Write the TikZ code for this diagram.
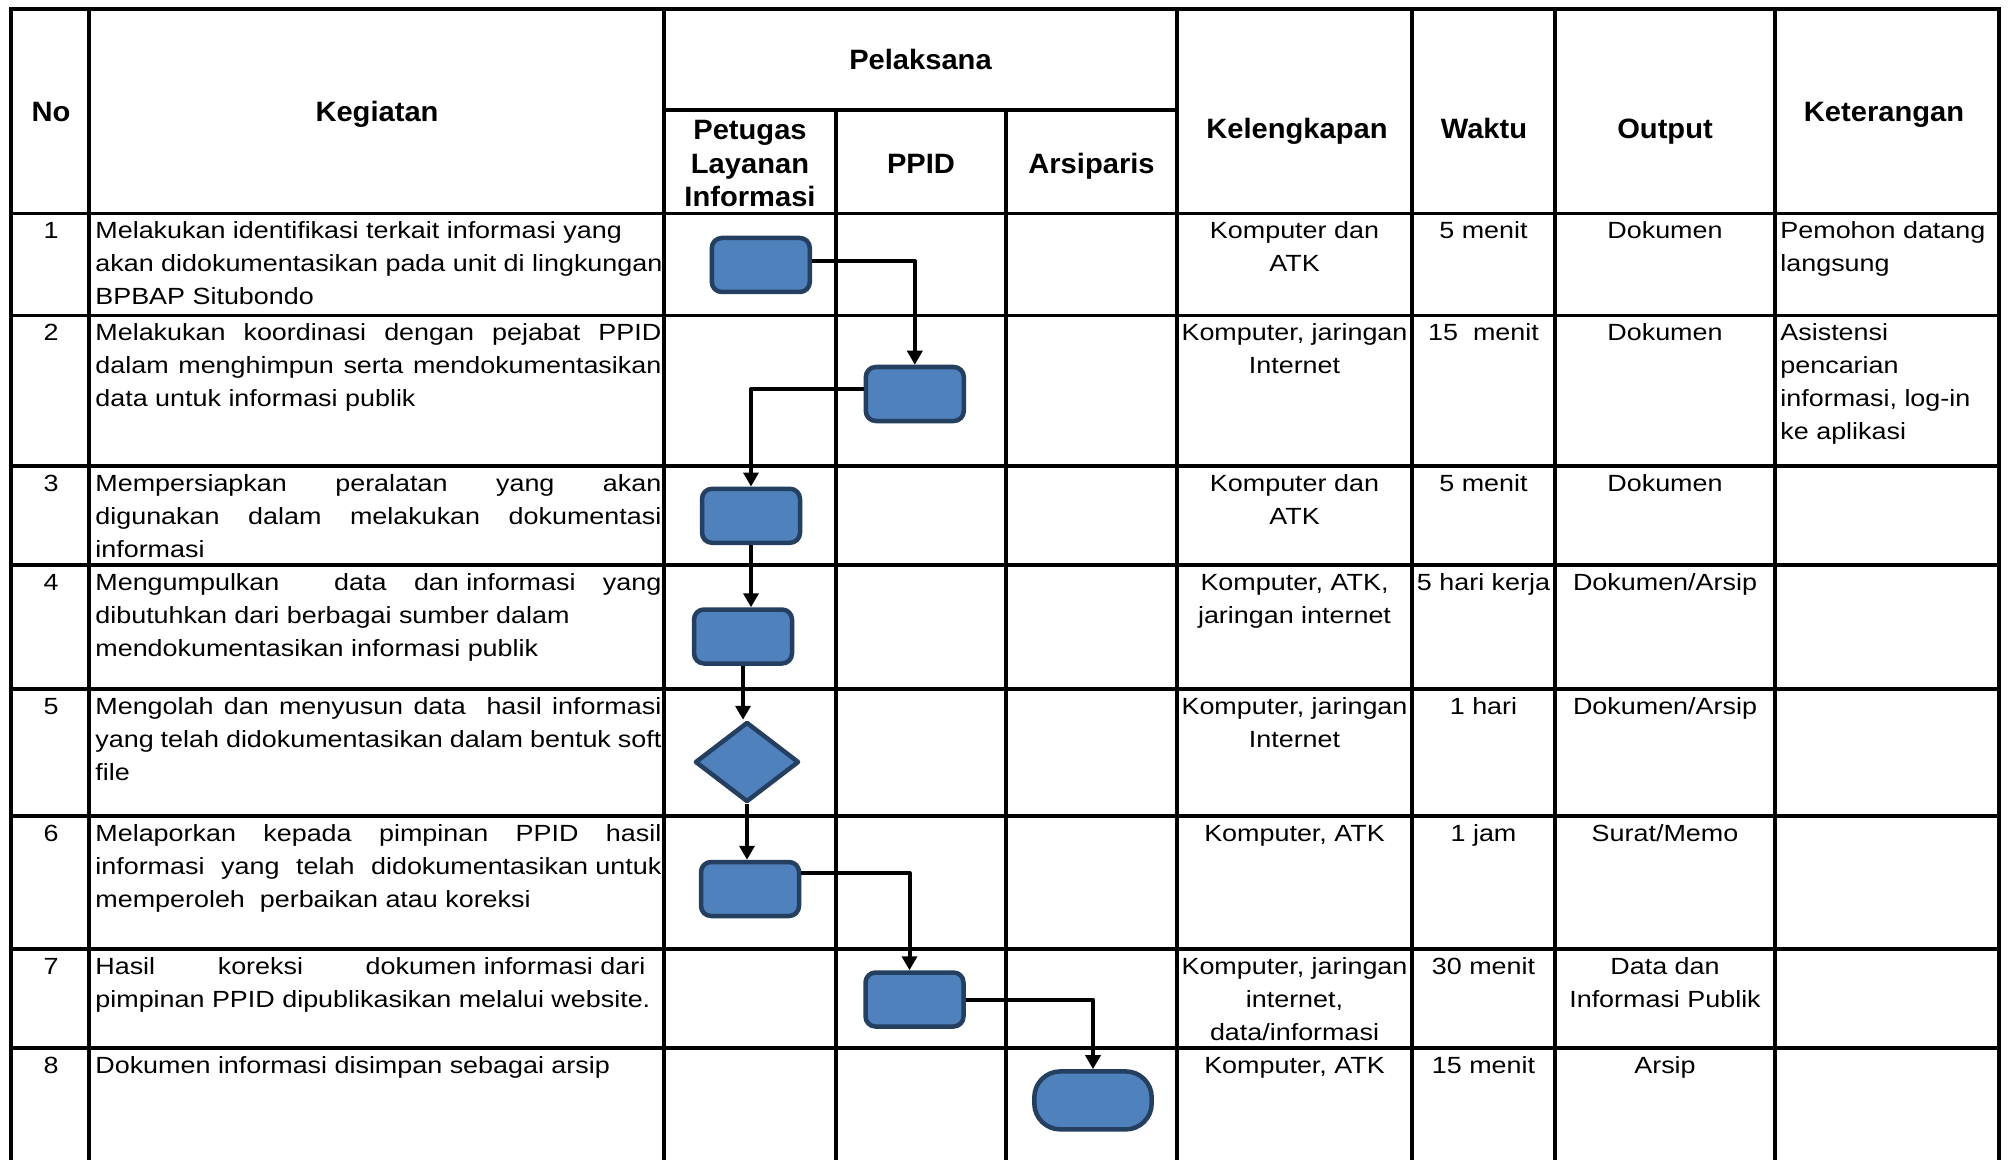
\documentclass[tikz,border=0pt]{standalone}
\usepackage{fontspec}
\setmainfont{Liberation Sans}[FakeStretch=1.15]
\newfontfamily\headfont{Liberation Sans}[FakeStretch=1.04]
\usetikzlibrary{arrows.meta,shapes.geometric}
\definecolor{flowfill}{HTML}{4F81BD}
\definecolor{flowline}{HTML}{243F60}
\newcommand{\tp}{\rule{0pt}{12.5pt}}
\newcommand{\jl}[2][283pt]{\makebox[#1][s]{#2}}

\begin{document}
\begin{tikzpicture}[x=0.5pt,y=-0.5pt,line join=round,
	grid/.style={line width=1.6pt,line cap=rect},
	cell/.style={anchor=north,inner sep=0pt,align=center,font={\fontsize{11.7pt}{16.5pt}\selectfont}},
	kcell/.style={cell,anchor=north west,align=left},
	head/.style={anchor=north,inner sep=0pt,align=center,font={\headfont\bfseries\fontsize{14pt}{16.7pt}\selectfont}},
	shp/.style={draw=flowline,fill=flowfill,line width=2.25pt,inner sep=0pt},
	proc/.style={shp,rounded corners=5pt,minimum width=49pt,minimum height=27pt},
	dec/.style={shp,diamond,minimum width=52pt,minimum height=40pt},
	term/.style={shp,rounded corners=13pt,minimum width=58.7pt,minimum height=29pt},
	flow/.style={line width=2pt,-{Triangle[width=7.5pt,length=7pt]}}]
			\def \xl{11};
			\def \xr{1999};
			\def \ytop{9};
			\def \ybot{1160};
			\path[use as bounding box,fill=white] (0,0) rectangle (2011,1160);
			\foreach \y in {\ytop,213.5,315.5,466,565,689,816,949,1048}{\draw[grid] (\xl,\y) -- (\xr,\y);}
			\draw[grid] (664,110) -- (1177,110);
			\foreach \x in {\xl,89,664,1177,1412,1555,1775,\xr}{\draw[grid] (\x,\ytop) -- (\x,\ybot);}
			\foreach \x in {836,1006}{\draw[grid] (\x,110) -- (\x,\ybot);}
			\node[head] (hno) at (51,96.6) {\tp No};
			\node[head] (hkeg) at (377,96.6) {\tp Kegiatan};
			\node[head] (hpel) at (920.5,44) {\tp Pelaksana};
			\node[head] (hpli) at (750,114.5) {\tp Petugas\\Layanan\\Informasi};
			\node[head] (hppid) at (921,148) {\tp PPID};
			\node[head] (harsip) at (1091.5,148) {\tp Arsiparis};
			\node[head] (hkel) at (1297,113.2) {\tp Kelengkapan};
			\node[head] (hwkt) at (1484,113.2) {\tp Waktu};
			\node[head] (hout) at (1665,113.2) {\tp Output};
			\node[head] (hket) at (1884,96.6) {\tp Keterangan};
			\foreach \r/\y in {1/213.5,2/315.5,3/466,4/565,5/689,6/816,7/949,8/1048}{\node[cell] (no\r) at (51,\y) {\tp\r};}
			\node[kcell] (keg1) at (95,213.5) {\tp Melakukan identifikasi terkait informasi yang\\akan didokumentasikan pada unit di lingkungan\\BPBAP Situbondo};
			\node[kcell] (keg2) at (95,315.5) {\tp\jl{Melakukan koordinasi dengan pejabat PPID}\\\jl{dalam menghimpun serta mendokumentasikan}\\data untuk informasi publik};
			\node[kcell] (keg3) at (95,466) {\tp\jl{Mempersiapkan peralatan yang akan}\\\jl{digunakan dalam melakukan dokumentasi}\\informasi};
			\node[kcell] (keg4) at (95,565) {\tp\jl{Mengumpulkan\hfill\hfill data\hfill dan informasi\hfill yang}\\dibutuhkan dari berbagai sumber dalam\\mendokumentasikan informasi publik};
			\node[kcell] (keg5) at (95,689) {\tp\jl{Mengolah dan menyusun data\ \ hasil informasi}\\\jl{yang telah didokumentasikan dalam bentuk soft}\\file};
			\node[kcell] (keg6) at (95,816) {\tp\jl{Melaporkan kepada pimpinan PPID hasil}\\\jl{informasi\hfill yang\hfill telah\hfill didokumentasikan untuk}\\memperoleh\ \ perbaikan atau koreksi};
			\node[kcell] (keg7) at (95,949) {\tp\jl[275pt]{Hasil\hfill koreksi\hfill dokumen informasi dari}\\pimpinan PPID dipublikasikan melalui website.};
			\node[kcell] (keg8) at (95,1048) {\tp Dokumen informasi disimpan sebagai arsip};
			\foreach \r/\y/\kel/\wkt/\out in {1/213.5/{Komputer dan\\ATK}/5 menit/Dokumen,
				2/315.5/{Komputer, jaringan\\Internet}/15\ \ menit/Dokumen,
				3/466/{Komputer dan\\ATK}/5 menit/Dokumen,
				4/565/{Komputer, ATK,\\jaringan internet}/5 hari kerja/Dokumen\slash Arsip,
				5/689/{Komputer, jaringan\\Internet}/1 hari/Dokumen\slash Arsip,
				6/816/{Komputer, ATK}/1 jam/Surat\slash Memo,
				7/949/{Komputer, jaringan\\internet,\\data\slash informasi}/30 menit/{Data dan\\Informasi Publik},
				8/1048/{Komputer, ATK}/15 menit/Arsip}{
				\node[cell] (kel\r) at (1294.5,\y) {\tp\kel};
				\node[cell] (wkt\r) at (1483.5,\y) {\tp\wkt};
				\node[cell] (out\r) at (1665,\y) {\tp\out};
			}
			\node[cell,anchor=north west,align=left] (ket1) at (1780,213.5) {\tp Pemohon datang\\langsung};
			\node[cell,anchor=north west,align=left] (ket2) at (1780,315.5) {\tp Asistensi\\pencarian\\informasi, log-in\\ke aplikasi};
			\node[proc] (p1) at (760.8,265) {};
			\node[proc] (p2) at (914.8,394) {};
			\node[proc] (p3) at (751,515.8) {};
			\node[proc] (p4) at (743,636.5) {};
			\node[dec] (p5) at (747,762) {};
			\node[proc] (p6) at (750,889) {};
			\node[proc] (p7) at (914.5,999.5) {};
			\node[term] (p8) at (1093,1100.4) {};
			\draw[flow] ([yshift=2pt]p1.east) -| (p2.north);
			\draw[flow] ([yshift=2.5pt]p2.west) -| (p3.north);
			\draw[flow] (p3.south) -- (p3.south |- p4.north);
			\draw[flow] (p4.south) -- (p4.south |- p5.north);
			\draw[flow] (p5.south) -- (p5.south |- p6.north);
			\draw[flow] ([yshift=8pt]p6.east) -| ([xshift=-2.5pt]p7.north);
			\draw[flow] (p7.east) -| (p8.north);
\end{tikzpicture}
\end{document}
